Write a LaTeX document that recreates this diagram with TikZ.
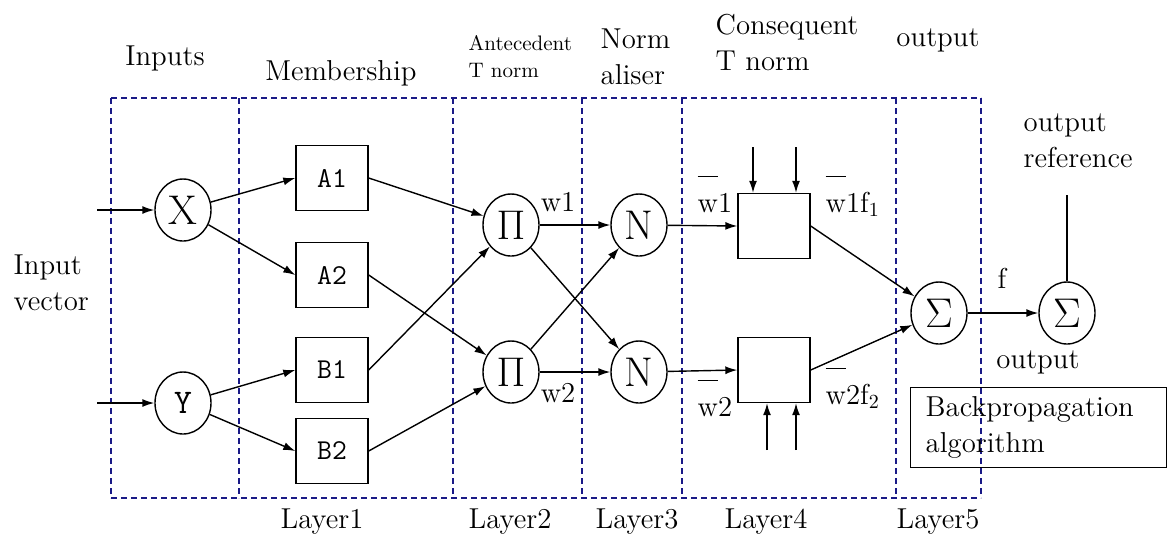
\documentclass[tikz,border=0pt]{standalone}
\usepackage{tikz}
\usepackage{xcolor}
\usetikzlibrary{arrows.meta,shapes.geometric}
\definecolor{layerblue}{RGB}{25,25,135}
\newcommand{\wbar}[1]{$\overline{\mbox{\rule{0pt}{1.15em}w}}$#1}
\tikzset{
    neuron/.style={draw,ellipse,minimum width=28pt,minimum height=31pt,inner sep=0pt,font=\huge},
    mfbox/.style={draw,rectangle,minimum width=36pt,minimum height=32.5pt,inner sep=0pt,font=\Large\ttfamily},
    txt/.style={font=\Large,align=left,inner sep=0pt},
    smalltxt/.style={font=\fontsize{10.5}{13.5}\selectfont,align=left,inner sep=0pt},
    arr/.style={-{Latex[length=6pt,width=4pt]}},
    layerbox/.style={draw=layerblue,line width=1.2pt,dash pattern=on 3pt off 2pt}
}

\begin{document}
\begin{tikzpicture}[x=0.5pt,y=-0.5pt,line width=0.7pt]
\useasboundingbox (0,0) rectangle (1167,537);
\foreach \x in {111,239,453,582,682,896,981}{
    \draw[layerbox] (\x,98) -- (\x,498);
}
\draw[layerbox] (111,98) -- (981,98) (111,498) -- (981,498);

\node[neuron] (X) at (183,210) {X};
\node[neuron,font=\LARGE\ttfamily] (Y) at (183,403) {Y};
\node[mfbox] (A1) at (332,178) {A1};
\node[mfbox] (A2) at (332,275) {A2};
\node[mfbox] (B1) at (332,370) {B1};
\node[mfbox] (B2) at (332,451) {B2};
\node[neuron] (P1) at (511,225) {$\Pi$};
\node[neuron] (P2) at (511,372) {$\Pi$};
\node[neuron] (N1) at (639,225) {N};
\node[neuron] (N2) at (639,372) {N};
\node[mfbox] (C1) at (774,226) {};
\node[mfbox] (C2) at (774,370) {};
\node[neuron] (S1) at (939,313) {$\Sigma$};
\node[neuron] (S2) at (1067,313) {$\Sigma$};

\coordinate (inx) at (97,210);
\coordinate (iny) at (97,403);
\coordinate (t1) at (753,147);
\coordinate (t2) at (796,147);
\coordinate (u1) at (767,450);
\coordinate (u2) at (796,450);
\coordinate (refc) at (1067,195);

\draw[arr] (inx) -- (X);
\draw[arr] (iny) -- (Y);
\draw[arr] (X) -- (A1.west);
\draw[arr] (X) -- (A2.west);
\draw[arr] (Y) -- (B1.west);
\draw[arr] (Y) -- (B2.west);
\draw[arr] (A1.east) -- (P1);
\draw[arr] (B1.east) -- (P1);
\draw[arr] (A2.east) -- (P2);
\draw[arr] (B2.east) -- (P2);
\foreach \a in {P1,P2}{
    \foreach \b in {N1,N2}{
        \draw[arr] (\a) -- (\b);
    }
}
\draw[arr] (N1) -- (C1.west);
\draw[arr] (N2) -- (C2.west);
\draw[arr] (t1) -- (t1 |- C1.north);
\draw[arr] (t2) -- (t2 |- C1.north);
\draw[arr] (u1) -- (u1 |- C2.south);
\draw[arr] (u2) -- (u2 |- C2.south);
\draw[arr] (C1.east) -- (S1);
\draw[arr] (C2.east) -- (S1);
\draw[arr] (S1) -- (S2);
\draw (refc) -- (S2.north);

\node[txt] (inputs) at (165,58) {Inputs};
\node[txt] (member) at (341,73) {Membership};
\node[smalltxt,anchor=west] (ante) at (468,57) {Antecedent\\T norm};
\node[txt,anchor=west] (norm) at (600,57) {Norm\\aliser};
\node[txt,anchor=west] (cons) at (715,42) {Consequent\\T norm};
\node[txt] (outtop) at (938,40) {output};
\node[txt,anchor=west] (outref) at (1023,141) {output\\reference};
\node[txt,anchor=west] (invec) at (13,283) {Input\\vector};
\node[txt] (flbl) at (1002,278) {f};
\node[txt] (outlow) at (1038,362) {output};
\node[txt] (w1) at (558,202) {w1};
\node[txt] (w2) at (558,393) {w2};
\node[txt,anchor=base west] (wb1) at (697,212) {\wbar{1}};
\node[txt,anchor=base west] (wb2) at (697,416) {\wbar{2}};
\node[txt,anchor=base west] (wf1) at (825,212) {\wbar{1f$_1$}};
\node[txt,anchor=base west] (wf2) at (825,404) {\wbar{2f$_2$}};
\node[txt,draw,anchor=north west,text width=113pt,inner xsep=7.5pt,inner ysep=0pt,minimum height=40pt] (bp) at (910,387) {Backpropagation\\algorithm};
\foreach \n/\x in {1/322,2/510,3/637,4/766,5/938}{
    \node[txt] (layer\n) at (\x,522) {Layer\n};
}
\end{tikzpicture}
\end{document}
